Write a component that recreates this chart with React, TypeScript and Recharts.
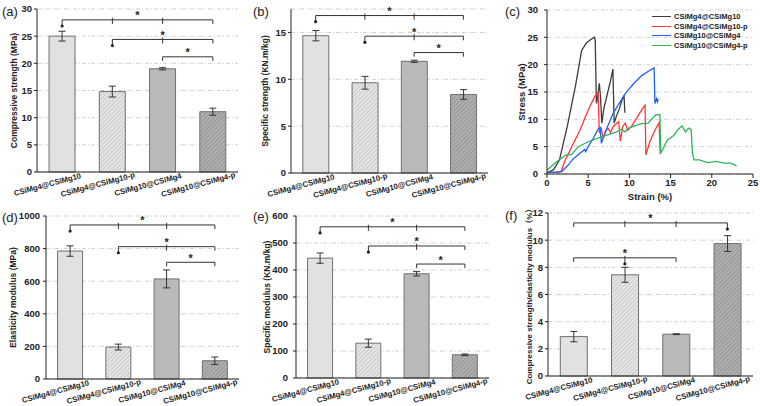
import React from "react";
import {
  BarChart,
  Bar,
  Cell,
  ErrorBar,
  XAxis,
  YAxis,
  CartesianGrid,
  ReferenceLine,
  ReferenceDot,
  LineChart,
  Line,
  Legend,
} from "recharts";

const FONT = "'Liberation Sans', Arial, 'Noto Sans CJK SC', sans-serif";
const INK = "#222";

const groups = ["CSiMg4@CSiMg10", "CSiMg4@CSiMg10-p", "CSiMg10@CSiMg4", "CSiMg10@CSiMg4-p"];

// (a) compressive strength, MPa
const compressive = [25.0, 14.8, 19.0, 11.1];
const compressiveErr = [0.9, 1.0, 0.2, 0.65];
const compressiveTicks = [0, 5, 10, 15, 20, 25, 30];

// (b) specific strength, KN.m/kg
const specStrength = [14.65, 9.63, 11.92, 8.38];
const specStrengthErr = [0.55, 0.68, 0.12, 0.52];
const specStrengthTicks = [0, 5, 10, 15];

// (d) elasticity modulus, MPa
const elastic = [785, 196, 614, 112];
const elasticErr = [32, 18, 55, 23];
const elasticTicks = [0, 200, 400, 600, 800, 1000];

// (e) specific modulus, KN.m/kg
const specModulus = [444, 129, 386, 86];
const specModulusErr = [19, 15, 8, 3];
const specModulusTicks = [0, 100, 200, 300, 400, 500, 600];

// (f) compressive strength / elasticity modulus, %
const ratio = [2.9, 7.45, 3.08, 9.75];
const ratioErr = [0.38, 0.55, 0.03, 0.58];
const ratioTicks = [0, 2, 4, 6, 8, 10, 12];

// significance brackets: category indices, height in data units, arrow category
type Sig = { from: number; to: number; level: number; arrow: number };
const compressiveSig: Sig[] = [
  { from: 0, to: 3, level: 28, arrow: 0 },
  { from: 1, to: 3, level: 24.4, arrow: 1 },
  { from: 2, to: 3, level: 21.2, arrow: -1 },
];
const specStrengthSig: Sig[] = [
  { from: 0, to: 3, level: 16.8, arrow: 0 },
  { from: 1, to: 3, level: 14.6, arrow: 1 },
  { from: 2, to: 3, level: 12.85, arrow: -1 },
];
const elasticSig: Sig[] = [
  { from: 0, to: 3, level: 945, arrow: 0 },
  { from: 1, to: 3, level: 812, arrow: 1 },
  { from: 2, to: 3, level: 716, arrow: -1 },
];
const specModulusSig: Sig[] = [
  { from: 0, to: 3, level: 560, arrow: 0 },
  { from: 1, to: 3, level: 489, arrow: 1 },
  { from: 2, to: 3, level: 422, arrow: -1 },
];
const ratioSig: Sig[] = [
  { from: 0, to: 3, level: 11.27, arrow: 3 },
  { from: 0, to: 2, level: 8.7, arrow: 1 },
];

// (c) stress-strain curves: [strain %, stress MPa]
const curveA: [number, number][] = [
  [0, 0.2], [0.8, 0.8], [1.5, 2.5], [2.5, 9], [3.5, 16.5], [4.2, 22.6], [4.8, 24], [5.4, 24.7],
  [5.75, 25], [5.85, 24.5], [6.0, 12.9], [6.15, 14], [6.35, 16.6], [6.5, 14], [6.65, 9.3],
  [6.9, 12], [7.3, 14.5], [7.7, 17], [8.0, 19.2], [8.15, 9.3], [8.4, 10.5], [8.8, 12],
  [9.1, 13.5], [9.35, 14.3], [9.45, 11.2],
];
const curveB: [number, number][] = [
  [0, 0.3], [1.0, 0.3], [1.7, 0.4], [2.2, 2.5], [3.0, 5], [4.0, 8], [5.0, 11.7], [5.8, 14.2],
  [6.2, 14.9], [6.35, 7.5], [6.6, 8.3], [6.8, 6.5], [7.1, 7.8], [7.4, 8.4], [7.7, 7.6], [8.0, 8.6],
  [8.4, 9.2], [8.7, 9.6], [8.9, 6], [9.2, 8.7], [9.5, 9.3], [9.8, 8], [10.3, 8.8], [11.0, 10.5],
  [11.6, 12], [11.9, 12.6], [12.0, 3.5], [12.5, 6], [13.1, 8], [13.6, 9.4], [13.75, 3.6],
];
const curveC: [number, number][] = [
  [0, 0.3], [1.0, 0.3], [1.8, 0.5], [2.5, 1.5], [3.2, 2.8], [4.0, 3.8], [4.6, 4.5], [4.7, 4.1],
  [5.0, 5], [5.6, 6.5], [6.2, 8.2], [6.45, 8.5], [6.6, 5.6], [6.8, 6.5], [7.3, 8.5], [8.0, 11],
  [8.7, 12.8], [9.5, 14.7], [10.5, 16.5], [11.5, 18], [12.3, 18.8], [13.0, 19.4], [13.1, 12.9],
  [13.3, 13.8], [13.4, 13.2], [13.5, 13.7],
];
const curveD: [number, number][] = [
  [0, 0.7], [1.0, 2.0], [2.2, 3.4], [3.0, 3.6], [3.8, 5.0], [5.0, 5.9], [6.6, 6.8], [8.3, 7.6],
  [9.0, 8.2], [9.5, 7.7], [9.9, 8.4], [11.0, 9.0], [11.5, 9.2], [12.3, 9.3], [12.6, 9.9],
  [13.2, 10.8], [13.7, 10.9], [13.8, 3.8], [14.6, 6.2], [15.4, 7.1], [16.0, 8.3], [16.4, 8.8],
  [16.8, 7.7], [17.2, 8.4], [17.5, 8.1], [17.65, 3.8], [17.85, 2.6], [18.5, 2.6], [19.5, 2.1],
  [20.5, 2.3], [21.5, 2.0], [22.3, 2.0], [23.0, 1.5],
];
const strainTicks = [0, 5, 10, 15, 20, 25];
const stressTicks = [0, 5, 10, 15, 20, 25, 30];

const tickStyle = { fontSize: 9.5, fontWeight: 700, fill: INK, fontFamily: FONT };

function SlantTick(props: any) {
  const { x, y, payload } = props;
  return (
    <text
      transform={`translate(${x - 14},${y + 15}) rotate(-15)`}
      textAnchor="middle"
      fontSize={7.8}
      fontWeight={700}
      fill={INK}
      fontFamily={FONT}
    >
      {payload.value}
    </text>
  );
}

// "*" above the middle of a bracket
function StarLabel(props: any) {
  const vb = props.viewBox || {};
  const cx = (vb.x ?? 0) + (vb.width ?? 0) / 2;
  return (
    <text
      x={cx}
      y={(vb.y ?? 0) - 0.5}
      textAnchor="middle"
      fontSize={11}
      fontWeight={700}
      fill={INK}
      fontFamily={FONT}
    >
      *
    </text>
  );
}

type BarPanelProps = {
  id: string;
  left: number;
  top: number;
  width: number;
  height: number;
  margin: { top: number; right: number; left: number; bottom: number };
  yWidth: number;
  xHeight: number;
  domain: [number, number];
  ticks: number[];
  values: number[];
  errors: number[];
  sigs: Sig[];
  yLabel: string;
  yLabelX: number;
  yLabelSize: number;
  tickGap: number;
};

function BarPanel(p: BarPanelProps) {
  const data = groups.map((name, i) => ({ name, value: p.values[i], err: p.errors[i] }));
  const d = (p.domain[1] - p.domain[0]) * 0.025;
  const fills = ["#e1e1e1", `url(#light-${p.id})`, "#b9b9b9", `url(#dark-${p.id})`];

  const sigMarks = p.sigs.flatMap((s, k) => {
    const out: React.ReactNode[] = [
      <ReferenceLine
        key={`h${k}`}
        segment={[
          { x: groups[s.from], y: s.level },
          { x: groups[s.to], y: s.level },
        ]}
        stroke="#333"
        strokeWidth={1}
        label={<StarLabel />}
      />,
    ];
    for (let i = s.from; i <= s.to; i++) {
      const inner = i !== s.from && i !== s.to;
      const y1 = inner ? s.level + d * 0.5 : s.level;
      const y2 = i === s.arrow ? s.level - d * 1.5 : s.level - d;
      out.push(
        <ReferenceLine
          key={`v${k}-${i}`}
          segment={[
            { x: groups[i], y: y1 },
            { x: groups[i], y: y2 },
          ]}
          stroke="#333"
          strokeWidth={1}
        />
      );
      if (i === s.arrow) {
        out.push(
          <ReferenceDot key={`a${k}`} x={groups[i]} y={y2} r={1.6} fill={INK} stroke="none" />
        );
      }
    }
    return out;
  });

  return (
    <div style={{ position: "absolute", left: p.left, top: p.top }}>
      <BarChart
        width={p.width}
        height={p.height}
        data={data}
        margin={p.margin}
        barCategoryGap="24%"
      >
        <defs>
          <pattern
            id={`light-${p.id}`}
            width="3"
            height="3"
            patternUnits="userSpaceOnUse"
            patternTransform="rotate(45)"
          >
            <rect width="3" height="3" fill="#e6e6e6" />
            <line x1="0" y1="0" x2="0" y2="3" stroke="#ababab" strokeWidth="1" />
          </pattern>
          <pattern
            id={`dark-${p.id}`}
            width="3"
            height="3"
            patternUnits="userSpaceOnUse"
            patternTransform="rotate(45)"
          >
            <rect width="3" height="3" fill="#b0b0b0" />
            <line x1="0" y1="0" x2="0" y2="3" stroke="#7a7a7a" strokeWidth="1" />
          </pattern>
        </defs>
        <CartesianGrid vertical={false} stroke="#cfcfcf" strokeDasharray="4 2 1 2" />
        <XAxis
          dataKey="name"
          interval={0}
          height={p.xHeight}
          tick={<SlantTick />}
          tickLine={false}
          tickSize={0}
          tickMargin={0}
          axisLine={{ stroke: INK }}
        />
        <XAxis
          xAxisId="top"
          orientation="top"
          dataKey="name"
          height={0}
          tick={false}
          tickLine={false}
          axisLine={{ stroke: INK }}
        />
        <YAxis
          domain={p.domain}
          ticks={p.ticks}
          width={p.yWidth}
          tick={tickStyle}
          tickSize={3}
          tickMargin={p.tickGap}
          tickLine={{ stroke: INK }}
          axisLine={{ stroke: INK }}
          label={{
            value: p.yLabel,
            angle: -90,
            position: "insideLeft",
            offset: p.yLabelX - p.margin.left,
            style: {
              textAnchor: "middle",
              fontSize: p.yLabelSize,
              fontWeight: 700,
              fill: INK,
              fontFamily: FONT,
            },
          }}
        />
        <YAxis
          yAxisId="right"
          orientation="right"
          domain={p.domain}
          width={0}
          tick={false}
          tickLine={false}
          axisLine={{ stroke: INK }}
        />
        <Bar dataKey="value" stroke="#707070" strokeWidth={1} isAnimationActive={false}>
          {data.map((_, i) => (
            <Cell key={i} fill={fills[i]} />
          ))}
          <ErrorBar dataKey="err" width={3.5} stroke="#333" strokeWidth={1} isAnimationActive={false} />
        </Bar>
        {sigMarks}
      </BarChart>
    </div>
  );
}

const curves = [
  { name: groups[0], color: "#3c3c3c", points: curveA },
  { name: groups[1], color: "#ff3636", points: curveB },
  { name: groups[2], color: "#1f62f0", points: curveC },
  { name: groups[3], color: "#2fb35a", points: curveD },
];

function CurveLegend({ payload }: any) {
  const order = curves.map((c) => c.name);
  const items = [...(payload || [])].sort(
    (a: any, b: any) => order.indexOf(a.value) - order.indexOf(b.value)
  );
  return (
    <div>
      {items.map((entry: any) => {
        const curve = curves.find((c) => c.name === entry.value);
        const color = curve ? curve.color : entry.color;
        return (
          <div key={entry.value} style={{ display: "flex", alignItems: "center", height: 9.5 }}>
            <span
              style={{
                display: "inline-block",
                width: 19,
                borderTop: `1.5px solid ${color}`,
                marginRight: 3,
              }}
            />
            <span
              style={{
                fontSize: 7.5,
                fontWeight: 700,
                color: INK,
                fontFamily: FONT,
                lineHeight: "9.5px",
                whiteSpace: "nowrap",
              }}
            >
              {entry.value}
            </span>
          </div>
        );
      })}
    </div>
  );
}

function CurvePanel() {
  return (
    <div style={{ position: "absolute", left: 505, top: 0 }}>
      <LineChart width={255} height={205} margin={{ top: 10, right: 7, left: 6, bottom: 0 }}>
        <CartesianGrid vertical={false} stroke="#cfcfcf" strokeDasharray="4 2 1 2" />
        <XAxis
          type="number"
          dataKey="x"
          domain={[0, 25]}
          ticks={strainTicks}
          height={31}
          tick={tickStyle}
          tickSize={4}
          tickMargin={1}
          tickLine={{ stroke: INK }}
          axisLine={{ stroke: INK }}
          label={{
            value: "Strain (%)",
            position: "insideBottom",
            offset: 5,
            style: { fontSize: 9.5, fontWeight: 700, fill: INK, fontFamily: FONT },
          }}
        />
        <XAxis
          xAxisId="top"
          orientation="top"
          type="number"
          domain={[0, 25]}
          height={0}
          tick={false}
          tickLine={false}
          axisLine={{ stroke: INK }}
        />
        <YAxis
          type="number"
          domain={[0, 30]}
          ticks={stressTicks}
          width={36}
          tick={tickStyle}
          tickSize={3}
          tickMargin={6}
          tickLine={{ stroke: INK }}
          axisLine={{ stroke: INK }}
          label={{
            value: "Stress (MPa)",
            angle: -90,
            position: "insideLeft",
            offset: 11,
            style: { textAnchor: "middle", fontSize: 9.5, fontWeight: 700, fill: INK, fontFamily: FONT },
          }}
        />
        <YAxis
          yAxisId="right"
          orientation="right"
          domain={[0, 30]}
          width={0}
          tick={false}
          tickLine={false}
          axisLine={{ stroke: INK }}
        />
        <Legend
          layout="vertical"
          align="center"
          verticalAlign="middle"
          wrapperStyle={{ left: 147, top: 12, width: 105 }}
          content={(props: any) => <CurveLegend {...props} />}
        />
        {curves.map((c) => (
          <Line
            key={c.name}
            data={c.points.map(([x, y]) => ({ x, y }))}
            dataKey="y"
            name={c.name}
            type="linear"
            stroke={c.color}
            strokeWidth={1.3}
            dot={false}
            activeDot={false}
            isAnimationActive={false}
          />
        ))}
      </LineChart>
    </div>
  );
}

const tagStyle: React.CSSProperties = {
  position: "absolute",
  fontSize: 13,
  fontFamily: FONT,
  color: INK,
  lineHeight: "14px",
};

export default function App() {
  return (
    <div
      style={{
        position: "absolute",
        left: 0,
        top: 0,
        width: 760,
        height: 406,
        background: "#fff",
        overflow: "hidden",
      }}
    >
      <BarPanel
        id="a"
        left={0}
        top={0}
        width={250}
        height={205}
        margin={{ top: 9, right: 12, left: 4, bottom: 0 }}
        yWidth={33}
        xHeight={33}
        domain={[0, 30]}
        ticks={compressiveTicks}
        values={compressive}
        errors={compressiveErr}
        sigs={compressiveSig}
        yLabel="Compressive strength (MPa)"
        yLabelX={14}
        yLabelSize={8.5}
        tickGap={2}
      />
      <BarPanel
        id="b"
        left={250}
        top={0}
        width={250}
        height={205}
        margin={{ top: 9, right: 12, left: 6, bottom: 0 }}
        yWidth={35}
        xHeight={32}
        domain={[0, 17.5]}
        ticks={specStrengthTicks}
        values={specStrength}
        errors={specStrengthErr}
        sigs={specStrengthSig}
        yLabel="Specific strength (KN.m/kg)"
        yLabelX={15}
        yLabelSize={8.5}
        tickGap={2}
      />
      <CurvePanel />
      <BarPanel
        id="d"
        left={0}
        top={200}
        width={250}
        height={206}
        margin={{ top: 16, right: 11, left: 4, bottom: 0 }}
        yWidth={42}
        xHeight={27}
        domain={[0, 1000]}
        ticks={elasticTicks}
        values={elastic}
        errors={elasticErr}
        sigs={elasticSig}
        yLabel="Elasticity modulus (MPa)"
        yLabelX={13}
        yLabelSize={8.5}
        tickGap={3}
      />
      <BarPanel
        id="e"
        left={250}
        top={200}
        width={250}
        height={206}
        margin={{ top: 16, right: 11, left: 6, bottom: 0 }}
        yWidth={40}
        xHeight={28}
        domain={[0, 600]}
        ticks={specModulusTicks}
        values={specModulus}
        errors={specModulusErr}
        sigs={specModulusSig}
        yLabel="Specific modulus (KN.m/kg)"
        yLabelX={17}
        yLabelSize={8.5}
        tickGap={5}
      />
      <BarPanel
        id="f"
        left={505}
        top={200}
        width={255}
        height={206}
        margin={{ top: 13, right: 7, left: 6, bottom: 0 }}
        yWidth={37}
        xHeight={30}
        domain={[0, 12]}
        ticks={ratioTicks}
        values={ratio}
        errors={ratioErr}
        sigs={ratioSig}
        yLabel="Compressive strength/elasticity modulus（%）"
        yLabelX={24}
        yLabelSize={8}
        tickGap={2}
      />
      <div style={{ ...tagStyle, left: 2, top: 5 }}>(a)</div>
      <div style={{ ...tagStyle, left: 253, top: 5 }}>(b)</div>
      <div style={{ ...tagStyle, left: 505, top: 5 }}>(c)</div>
      <div style={{ ...tagStyle, left: 2, top: 211 }}>(d)</div>
      <div style={{ ...tagStyle, left: 253, top: 210 }}>(e)</div>
      <div style={{ ...tagStyle, left: 505, top: 209 }}>(f)</div>
    </div>
  );
}
